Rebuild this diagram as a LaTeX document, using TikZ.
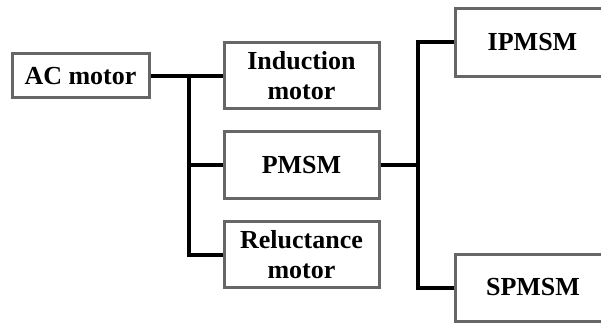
\documentclass[tikz,border=0pt]{standalone}
\usepackage{fontspec}
\setmainfont{Liberation Serif}
\definecolor{boxgray}{HTML}{666666}
\tikzset{
  motorbox/.style={draw=boxgray, line width=3pt, fill=white, inner sep=0pt,
    minimum width=155pt, minimum height=66pt, align=center,
    font=\fontsize{26}{30}\selectfont\bfseries},
  conn/.style={line width=4pt, black}
}

\begin{document}
\begin{tikzpicture}[x=1pt, y=-1pt]
\clip (0,0) rectangle (601,323);
\node[motorbox, minimum width=137pt, minimum height=44pt] (ac) at (80.5,76) {AC motor};
\node[motorbox] (ind) at (301.5,76) {Induction\\motor};
\node[motorbox] (pmsm) at (301.5,165) {PMSM};
\node[motorbox] (rel) at (301.5,254.5) {Reluctance\\motor};
\node[motorbox, minimum height=68pt] (ipmsm) at (532.5,42.5) {IPMSM};
\node[motorbox, minimum height=67pt] (spmsm) at (533,287.5) {SPMSM};
\coordinate (j1) at (188.5,165);
\coordinate (j2) at (418,165);
\draw[conn] (ac.east) -- (ind.west);
\draw[conn] (ind.west -| j1) |- (rel.west);
\draw[conn] (j1) -- (pmsm.west);
\draw[conn] (pmsm.east) -- (j2);
\draw[conn] (ipmsm.west) -| (j2) |- (spmsm.west);
\end{tikzpicture}
\end{document}
